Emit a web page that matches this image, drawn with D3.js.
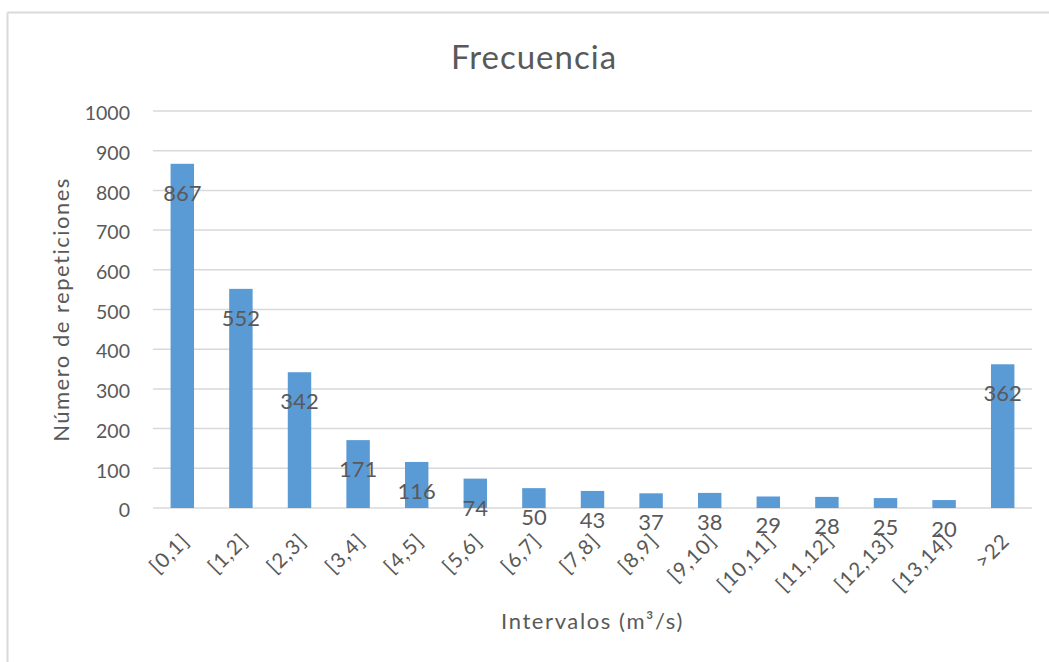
<!DOCTYPE html>
<html>
<head>
<meta charset="utf-8">
<script src="https://cdn.jsdelivr.net/npm/d3@7"></script>
<style>
  html, body { margin: 0; padding: 0; background: #fff; }
  svg { display: block; }
  text { font-family: Lato, "Open Sans", sans-serif; fill: #595959; }
</style>
</head>
<body>
<svg id="chart" width="1049" height="662"></svg>
<script>
const categories = ["[0,1]", "[1,2]", "[2,3]", "[3,4]", "[4,5]", "[5,6]", "[6,7]", "[7,8]", "[8,9]", "[9,10]", "[10,11]", "[11,12]", "[12,13]", "[13,14]", ">22"];
const values = [867, 552, 342, 171, 116, 74, 50, 43, 37, 38, 29, 28, 25, 20, 362];
const yTicks = [0, 100, 200, 300, 400, 500, 600, 700, 800, 900, 1000];
const chartTitle = "Frecuencia";
const yTitle = "Número de repeticiones";
const xTitle = "Intervalos (m³/s)";

const svg = d3.select("#chart");
const W = 1049, H = 662;
const plot = { left: 153, right: 1032, top: 111, bottom: 508 };

// chart frame (top and left edges visible)
svg.append("line").attr("x1", 7.5).attr("x2", W).attr("y1", 12.5).attr("y2", 12.5)
  .attr("stroke", "#d9d9d9").attr("stroke-width", 2);
svg.append("line").attr("x1", 7.5).attr("x2", 7.5).attr("y1", 12.5).attr("y2", H)
  .attr("stroke", "#d9d9d9").attr("stroke-width", 2);

const x = d3.scaleBand().domain(categories).range([plot.left, plot.right])
  .paddingInner(0.6).paddingOuter(0.3);
const y = d3.scaleLinear().domain([0, 1000]).range([plot.bottom, plot.top]);

// gridlines
svg.append("g").selectAll("line").data(yTicks).join("line")
  .attr("x1", plot.left).attr("x2", plot.right)
  .attr("y1", d => y(d)).attr("y2", d => y(d))
  .attr("stroke", "#d9d9d9").attr("stroke-width", 1.5);

// y axis labels
const yAxis = d3.axisLeft(y).tickValues(yTicks).tickFormat(d3.format("d")).tickSize(0).tickPadding(0);
const gy = svg.append("g").attr("transform", `translate(${plot.left - 23},0)`).call(yAxis);
gy.select(".domain").remove();
gy.selectAll("text").attr("font-size", "19.5px").attr("dy", "0.45em")
  .style("font-family", "Lato, sans-serif").attr("fill", "#595959");

// bars
svg.append("g").selectAll("rect").data(values).join("rect")
  .attr("x", (d, i) => x(categories[i]))
  .attr("width", x.bandwidth())
  .attr("y", d => y(d))
  .attr("height", d => y(0) - y(d))
  .attr("fill", "#5b9bd5");

// x axis labels
const xAxis = d3.axisBottom(x).tickSize(0).tickPadding(0);
const gx = svg.append("g").attr("transform", `translate(0,${plot.bottom})`).call(xAxis);
gx.select(".domain").remove();
gx.selectAll("text")
  .attr("font-size", "20.5px")
  .style("font-family", "Lato, sans-serif").style("letter-spacing", "1px").attr("fill", "#595959")
  .attr("text-anchor", "end")
  .attr("x", 0).attr("y", 0).attr("dy", "0.36em")
  .attr("transform", "translate(3,29) rotate(-45)");

// data labels
svg.append("g").selectAll("text").data(values).join("text")
  .attr("x", (d, i) => x(categories[i]) + x.bandwidth() / 2)
  .attr("y", d => y(d) + 29)
  .attr("dy", "0.36em")
  .attr("text-anchor", "middle")
  .attr("font-size", "22px")
  .attr("fill", "#404040")
  .text(d => d);

// titles
svg.append("text").attr("x", 534).attr("y", 69).attr("text-anchor", "middle")
  .attr("font-size", "33px").style("letter-spacing", "1px").text(chartTitle);
svg.append("text").attr("transform", `translate(69,${(plot.top + plot.bottom) / 2}) rotate(-90)`)
  .attr("text-anchor", "middle").attr("font-size", "22px").style("letter-spacing", "1.5px").text(yTitle);
svg.append("text").attr("x", (plot.left + plot.right) / 2).attr("y", 629)
  .attr("text-anchor", "middle").attr("font-size", "22px").style("letter-spacing", "1.6px").text(xTitle);
</script>
</body>
</html>
